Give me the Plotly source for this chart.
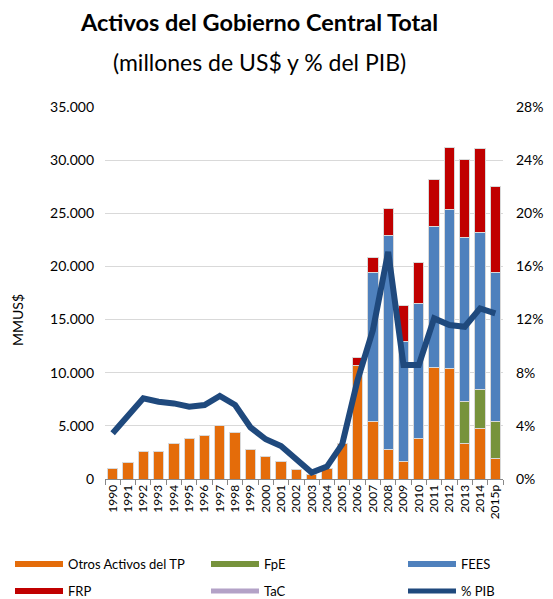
import plotly.graph_objects as go

years = ["1990","1991","1992","1993","1994","1995","1996","1997","1998","1999",
         "2000","2001","2002","2003","2004","2005","2006","2007","2008","2009",
         "2010","2011","2012","2013","2014","2015p"]
otros = [1000,1530,2570,2600,3300,3830,4140,5010,4360,2730,
         2100,1630,910,400,1000,3300,10700,5400,2800,1600,
         3800,10500,10350,3350,4750,1950]
fpe = [0]*23 + [3900,3700,3500]
fees = [0]*17 + [14000,20150,11300,12700,13250,15000,15450,14700,14000]
frp = [0]*16 + [700,1450,2500,3400,3850,4400,5850,7350,7900,8050]
tac = [0]*26
pib = [3.44,4.7,6.07,5.82,5.69,5.44,5.57,6.25,5.57,3.89,
       2.99,2.48,1.48,0.48,0.93,2.63,7.45,11.2,17.1,8.58,
       8.58,12.09,11.59,11.46,12.84,12.47]

C_OTROS = "#E46C0A"
C_FPE = "#77933C"
C_FEES = "#4F81BD"
C_FRP = "#C00000"
C_TAC = "#B3A2C7"
C_PIB = "#1F497D"

font = "Lato, 'Open Sans', sans-serif"
fig = go.Figure()
line_b = dict(color="#d9d9d9", width=1)
for name, vals, col in [("Otros Activos del TP", otros, C_OTROS),
                        ("FpE", fpe, C_FPE),
                        ("FEES", fees, C_FEES),
                        ("FRP", frp, C_FRP),
                        ("TaC", tac, C_TAC)]:
    fig.add_trace(go.Bar(x=years, y=vals, name=name, marker=dict(color=col, line=line_b),
                         showlegend=False))

fig.add_trace(go.Scatter(x=years, y=pib, name="% PIB", mode="lines",
                         line=dict(color=C_PIB, width=6), yaxis="y2", showlegend=False))

# legend entries (line symbols), one small legend per entry
leg_items = [("Otros Activos del TP", C_OTROS, 6, "legend"),
             ("FpE", C_FPE, 6, "legend2"),
             ("FEES", C_FEES, 6, "legend3"),
             ("FRP", C_FRP, 6, "legend4"),
             ("TaC", C_TAC, 5, "legend5"),
             ("% PIB", C_PIB, 5, "legend6")]
for name, col, w, lg in leg_items:
    fig.add_trace(go.Scatter(x=[years[0]], y=[None], name=name, mode="lines",
                             line=dict(color=col, width=w), showlegend=True, legend=lg))

def py(ypx):
    return (479 - ypx) / 372

def px(xpx):
    return (xpx - 105) / 398

col_x = [10, 206, 403]
row_y = [564, 591]
legends = {}
for i, (name, col, w, lg) in enumerate(leg_items):
    cx = col_x[i % 3]
    ry = row_y[i // 3]
    legends[lg] = dict(xref="container", yref="container", x=cx / 553, y=1 - ry / 599,
                       xanchor="left", yanchor="middle", font=dict(size=13),
                       itemwidth=48, bgcolor="rgba(0,0,0,0)")

fig.update_layout(
    width=553, height=599,
    barmode="stack", bargap=0.33,
    separators=",.",
    plot_bgcolor="white", paper_bgcolor="white",
    font=dict(family=font, size=13, color="#000"),
    margin=dict(l=105, r=50, t=107, b=120, autoexpand=False),
    xaxis=dict(type="category", tickangle=-90, ticks="outside", tickson="boundaries",
               ticklen=5, tickcolor="#888", showline=True, linecolor="#888",
               tickfont=dict(size=12), showgrid=False),
    yaxis=dict(range=[0, 35000], dtick=5000, tickformat=",d", showgrid=True,
               gridcolor="#d9d9d9", zeroline=False, tickfont=dict(size=14),
               ticklabelstandoff=10),
    yaxis2=dict(range=[0, 28], dtick=4, ticksuffix="%", overlaying="y", side="right",
                showgrid=False, zeroline=False, tickfont=dict(size=14),
                ticklabelstandoff=12),
    annotations=[
        dict(text="<b>Activos del Gobierno Central Total</b>", xref="paper", yref="paper",
             x=px(258.5), y=py(22), xanchor="center", yanchor="middle", showarrow=False,
             font=dict(size=23.5, family=font)),
        dict(text="(millones de US$ y % del PIB)", xref="paper", yref="paper",
             x=px(259), y=py(62), xanchor="center", yanchor="middle", showarrow=False,
             font=dict(size=23, family=font)),
        dict(text="MMUS$", xref="paper", yref="paper", x=px(17), y=py(320),
             xanchor="center", yanchor="middle", textangle=-90, showarrow=False,
             font=dict(size=14, family=font)),
    ],
    **legends,
)
fig.update_xaxes(range=[-0.5, 25.5])
fig.write_html("out.html", config={"displayModeBar": False},
               post_script="document.body.style.margin='0';")
